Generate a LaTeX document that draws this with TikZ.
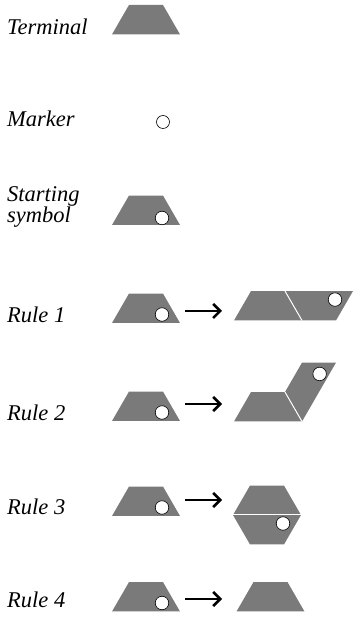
\documentclass[tikz,border=0pt]{standalone}
\usepackage{fontspec}
\setmainfont{Liberation Serif}
\usetikzlibrary{arrows.meta}
\begin{document}
\begin{tikzpicture}[x=1pt,y=1pt,
  tilefill/.style={fill=black!52},
  seam/.style={draw=white, line width=1pt},
  marker/.style={circle, draw=black, fill=white, line width=0.6pt, minimum size=13.5pt, inner sep=0pt},
  rulearrow/.style={line width=2.6pt, -{Straight Barb[length=7pt,width=14pt]}},
  lbl/.style={anchor=base west, inner sep=0pt, font=\fontsize{22.5}{26}\selectfont\itshape},
  pics/tile/.style={code={\fill[tilefill] (0,0) -- (68,0) -- (51,29.44) -- (17,29.44) -- cycle;}}
]
\useasboundingbox (0,0) rectangle (353,619);

% labels
\node[lbl] (lterm)   at (7,584) {Terminal};
\node[lbl] (lmark)   at (7,492) {Marker};
\node[lbl] (lstartA) at (7,417.5) {Starting};
\node[lbl] (lstartB) at (7,396) {symbol};
\node[lbl] (lr1)     at (7,296) {Rule 1};
\node[lbl] (lr2)     at (7,198) {Rule 2};
\node[lbl] (lr3)     at (7,104) {Rule 3};
\node[lbl] (lr4)     at (7,11)  {Rule 4};

% terminal tile and lone marker
\pic at (112,584.6) {tile};
\node[marker, minimum size=13pt] (mk) at (163,497) {};

% starting symbol
\pic at (112,394) {tile};
\node[marker] (smk) at (162,401) {};

% rule 1: tile -> tile + flipped tile
\pic at (112,296) {tile};
\node[marker] (m1) at (162,304.5) {};
\coordinate (a1s) at (185,308);
\coordinate (a1e) at (222,308);
\draw[rulearrow] (a1s) -- (a1e);
\pic at (234,298.5) {tile};
\begin{scope}[shift={(285,327.94)}, yscale=-1]
  \pic[transform shape] {tile};
  \node[marker] (m1r) at (50,8.5) {};
\end{scope}
\coordinate (s1a) at (302,298.5);
\coordinate (s1b) at (285,327.94);
\draw[seam] (s1a) -- (s1b);

% rule 2: tile -> tile + tile turned by 60 degrees
\pic at (112,198) {tile};
\node[marker] (m2) at (162,206.5) {};
\coordinate (a2s) at (185,215);
\coordinate (a2e) at (222,215);
\draw[rulearrow] (a2s) -- (a2e);
\pic at (234,197.5) {tile};
\begin{scope}[shift={(302,197.5)}, rotate=60]
  \pic[transform shape] {tile};
  \node[marker] (m2r) at (50,8.5) {};
\end{scope}
\coordinate (s2a) at (302,197.5);
\coordinate (s2b) at (285,226.94);
\draw[seam] (s2a) -- (s2b);

% rule 3: tile -> hexagon of two halves
\pic at (112,103) {tile};
\node[marker] (m3) at (162,111.5) {};
\coordinate (a3s) at (185,119);
\coordinate (a3e) at (222,119);
\draw[rulearrow] (a3s) -- (a3e);
\pic at (233,104) {tile};
\begin{scope}[shift={(233,104)}, yscale=-1]
  \pic[transform shape] {tile};
  \node[marker] (m3r) at (50,8.5) {};
\end{scope}
\coordinate (s3a) at (233,104);
\coordinate (s3b) at (301,104);
\draw[seam] (s3a) -- (s3b);

% rule 4: tile -> terminal
\pic at (112,7.5) {tile};
\node[marker] (m4) at (162,16) {};
\coordinate (a4s) at (185,20);
\coordinate (a4e) at (222,20);
\draw[rulearrow] (a4s) -- (a4e);
\pic at (236.5,7.5) {tile};
\end{tikzpicture}
\end{document}
